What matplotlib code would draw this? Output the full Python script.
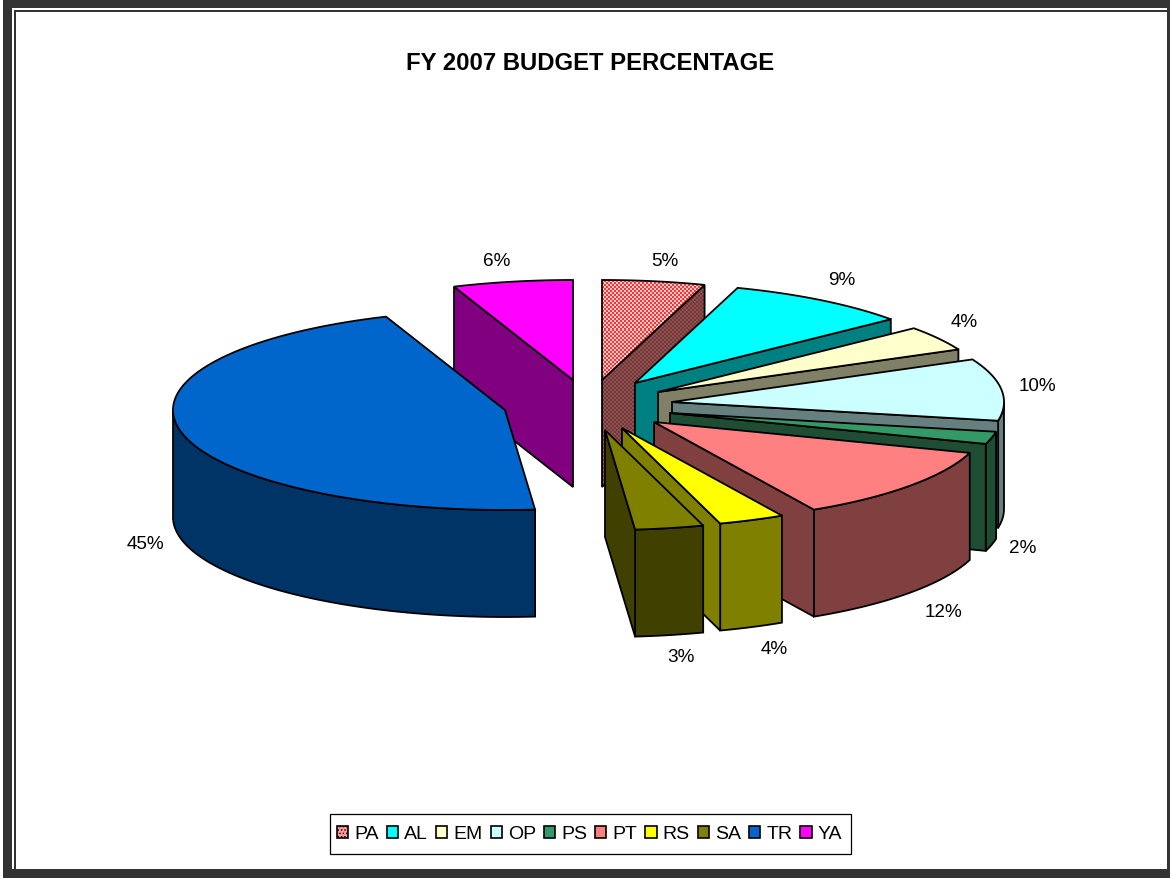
import numpy as np
import matplotlib
matplotlib.use("Agg")
import matplotlib.pyplot as plt
from matplotlib.patches import Polygon, Rectangle, Patch

plt.rcParams['font.family'] = ['Liberation Sans', 'DejaVu Sans']
plt.rcParams['hatch.linewidth'] = 0.6

# ---- data ----
title = "FY 2007 BUDGET PERCENTAGE"
categories = ["PA", "AL", "EM", "OP", "PS", "PT", "RS", "SA", "TR", "YA"]
percent = [5, 9, 4, 10, 2, 12, 4, 3, 45, 6]
top_colors = ["#FF8080", "#00FFFF", "#FFFFCC", "#CCFFFF", "#339966",
              "#FF8080", "#FFFF00", "#808000", "#0066CC", "#FF00FF"]
side_colors = ["#804040", "#008080", "#808066", "#668080", "#1F4D33",
               "#804040", "#808000", "#404000", "#003366", "#800080"]

# ---- layout (pixels) ----
tips = {"PA": (602, 381), "AL": (635, 384), "EM": (658, 393), "OP": (672, 403),
        "PS": (670, 414), "PT": (654, 423), "RS": (622, 429), "SA": (605, 431),
        "TR": (505, 411), "YA": (573, 381)}
label_pos = {"PA": (665, 260), "AL": (842, 279), "EM": (964, 321), "OP": (1037, 385),
             "PS": (1023, 547), "PT": (944, 611), "RS": (774, 648), "SA": (681, 656),
             "TR": (145, 543), "YA": (497, 260)}
RX, RY, DEPTH = 332, 100, 107
# perspective correction of the drawn angle near the front of the pie
WARP_IN = [0, 151.2, 165.6, 176.4, 180, 338.4, 360]
WARP_OUT = [0, 151.2, 162.8, 174.8, 180, 339.0, 360]
draw_order = ["YA", "TR", "PA", "AL", "EM", "OP", "PS", "PT", "RS", "SA"]
EDGE = dict(edgecolor="black", linewidth=1.3, joinstyle="miter")

fig = plt.figure(figsize=(11.7, 8.79), dpi=100, facecolor="white")
ax = fig.add_axes([0, 0, 1, 1])
ax.set_xlim(0, 1170)
ax.set_ylim(879, 0)
ax.axis("off")

# frame
FRAME = "#333333"
for (x, y, w, h) in [(3, 0, 9, 879), (3, 0, 1167, 9), (1167, 0, 3, 879), (3, 870, 1167, 9),
                     (14, 11, 2, 868), (14, 11, 1156, 2)]:
    ax.add_patch(Rectangle((x, y), w, h, facecolor=FRAME, edgecolor="none", zorder=1))

# slice angles from the values (clockwise from 12 o'clock)
cum = np.cumsum([0] + percent)
angles = {c: (360 * cum[i] / cum[-1], 360 * cum[i + 1] / cum[-1]) for i, c in enumerate(categories)}


def rim(tip, a0, a1):
    t = np.linspace(a0, a1, max(2, int(abs(a1 - a0)) * 2))
    t = np.radians(np.interp(t, WARP_IN, WARP_OUT))
    return np.column_stack([tip[0] + RX * np.sin(t), tip[1] - RY * np.cos(t)])


def down(pts):
    return np.asarray(pts) + [0, DEPTH]


def checker(poly, c1, c2, z):
    """Dithered two-colour fill clipped to a polygon."""
    x0, y0 = np.floor(poly.min(axis=0)).astype(int)
    x1, y1 = np.ceil(poly.max(axis=0)).astype(int)
    yy, xx = np.mgrid[y0:y1, x0:x1]
    mask = ((xx // 2 + yy // 2) % 2)[..., None]
    rgb = np.where(mask, matplotlib.colors.to_rgb(c1), matplotlib.colors.to_rgb(c2))
    im = ax.imshow(rgb, extent=(x0, x1, y1, y0), interpolation="nearest", zorder=z, aspect="auto")
    clip = Polygon(poly, closed=True, transform=ax.transData)
    im.set_clip_path(clip)


z = 2
for c in draw_order:
    i = categories.index(c)
    a0, a1 = angles[c]
    tip = np.array(tips[c], float)
    top, side = top_colors[i], side_colors[i]
    polys = []
    # outer wall: front half only
    w0, w1 = max(a0, 90), min(a1, 270)
    if w1 > w0:
        r = rim(tip, w0, w1)
        polys.append((np.vstack([r, down(r)[::-1]]), side, False))
    # radial faces turned to the viewer
    for a, ok in ((a1, np.sin(np.radians(a1)) > 1e-6), (a0, np.sin(np.radians(a0)) < -1e-6)):
        if ok:
            p = rim(tip, a, a)[0]
            polys.append((np.array([tip, p, p + [0, DEPTH], tip + [0, DEPTH]]), side, False))
    # top
    polys.append((np.vstack([tip, rim(tip, a0, a1)]), top, True))
    for pts, col, is_top in polys:
        if c == "PA":
            if is_top:
                checker(pts, "#FF3333", "#FFCCCC", z)
            else:
                checker(pts, "#803030", "#805858", z)
            z += 1
            ax.add_patch(Polygon(pts, closed=True, facecolor="none", zorder=z, **EDGE))
        else:
            ax.add_patch(Polygon(pts, closed=True, facecolor=col, zorder=z, **EDGE))
        z += 1

# value labels
for c, v in zip(categories, percent):
    x, y = label_pos[c]
    ax.text(x, y + 2, f"{v}%", ha="center", va="center", fontsize=13.6, color="black", zorder=z)

ax.text(590.5, 63, title, ha="center", va="center", fontsize=17.2, fontweight="bold", zorder=z)

# legend
ax.add_patch(Rectangle((330, 815), 521, 40, facecolor="white", edgecolor="black", linewidth=0.9, zorder=z))
handles = []
for c, col in zip(categories, top_colors):
    if c == "PA":
        handles.append(Patch(facecolor="#FF9999", edgecolor="black", hatch=".....", linewidth=1.2, label=c))
    else:
        handles.append(Patch(facecolor=col, edgecolor="black", linewidth=1.2, label=c))
leg = ax.legend(handles=handles, ncol=10, loc="center", bbox_to_anchor=(589.5, 835),
                bbox_transform=ax.transData, fontsize=14, frameon=False,
                handlelength=0.58, handleheight=0.58, handletextpad=0.3,
                columnspacing=0.42, borderpad=0, borderaxespad=0)
leg.set_zorder(z + 1)

fig.savefig("out.png", dpi=100, facecolor="white")
